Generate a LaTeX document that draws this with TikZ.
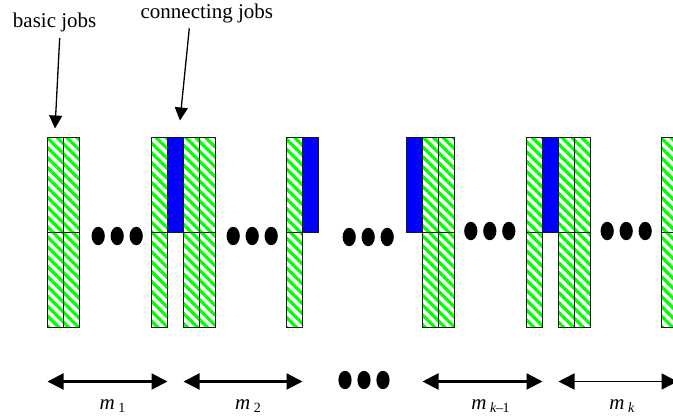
\documentclass[tikz,border=0pt]{standalone}
\usepackage{fontspec}
\setmainfont{Liberation Serif}
\usetikzlibrary{arrows.meta, positioning, patterns.meta}

% machine index with a lowered subscript
\newcommand{\msub}[1]{\textit{m}\,\raisebox{-3.5pt}{\fontsize{14}{14}\selectfont #1}}

\begin{document}
\begin{tikzpicture}[x=1pt, y=-1pt,
    font=\fontsize{21}{25}\selectfont,
    cell/.style={minimum width=16pt, minimum height=95pt, inner sep=0pt, outer sep=0pt},
    basic/.style={cell, pattern={Lines[angle=-45, distance=7pt, line width=3.2pt]}, pattern color=green},
    connect/.style={cell, fill=blue},
    outline/.style={draw=black!90, line width=1.4pt},
    pointer/.style={-{Triangle[width=13pt, length=13pt]}, line width=1.3pt},
    spanarrow/.style={{Triangle[width=16pt, length=16pt]}-{Triangle[width=16pt, length=16pt]}, line width=2.2pt}
  ]
  \useasboundingbox (0,0) rectangle (673,417);

  % upper row of cells
  \node[basic, anchor=north west] (g1a) at (47.5,137.5) {};
  \node[basic, right=0pt of g1a] (g1b) {};

  \node[basic, anchor=north west] (g2a) at (151.5,137.5) {};
  \node[connect, right=0pt of g2a] (g2b) {};
  \node[basic, right=0pt of g2b] (g2c) {};
  \node[basic, right=0pt of g2c] (g2d) {};

  \node[basic, anchor=north west] (g3a) at (286.5,137.5) {};
  \node[connect, right=0pt of g3a] (g3b) {};

  \node[connect, anchor=north west] (g4a) at (406.5,137.5) {};
  \node[basic, right=0pt of g4a] (g4b) {};
  \node[basic, right=0pt of g4b] (g4c) {};

  \node[basic, anchor=north west] (g5a) at (526.5,137.5) {};
  \node[connect, right=0pt of g5a] (g5b) {};
  \node[basic, right=0pt of g5b] (g5c) {};
  \node[basic, right=0pt of g5c] (g5d) {};

  \node[basic, anchor=north west] (g6a) at (661.5,137.5) {};

  % lower row, only under the basic jobs
  \foreach \c in {g1a,g1b,g2a,g2c,g2d,g3a,g4b,g4c,g5a,g5c,g5d,g6a}
    \node[basic, below=0pt of \c] (\c l) {};

  % cell borders on top of the hatching
  \foreach \c in {g1a,g1b,g2a,g2b,g2c,g2d,g3a,g3b,g4a,g4b,g4c,g5a,g5b,g5c,g5d,g6a,
                  g1al,g1bl,g2al,g2cl,g2dl,g3al,g4bl,g4cl,g5al,g5cl,g5dl,g6al}
    \draw[outline] (\c.north west) rectangle (\c.south east);

  % dots between the groups
  \foreach \x/\y in {98.2/236, 233.2/236, 349.2/237, 470.8/231, 607.2/231, 345/380}
    \foreach \i in {0,1,2}
      \fill (\x+19*\i, \y) ellipse [x radius=6.6, y radius=9.2];

  \node[anchor=base, inner sep=0pt] (basic) at (54.7,28) {basic jobs};
  \node[anchor=base, inner sep=0pt] (conn) at (206.8,19) {connecting jobs};
  \draw[pointer] ([xshift=5pt, yshift=-10pt]basic.base) -- ([xshift=-0.5pt, yshift=9pt]g1a.north);
  \draw[pointer] ([xshift=-17.5pt, yshift=-9.3pt]conn.base) -- ([xshift=4.5pt, yshift=17pt]g2b.north);

  % machine spans
  \coordinate (axis) at (0,381.5);
  \draw[spanarrow] (g1a.west |- axis) -- (g2a.east |- axis)
    node[midway, anchor=base, xshift=5pt, yshift=-27.5pt] (m1) {\msub{1}};
  \draw[spanarrow] (g2b.east |- axis) -- (g3a.east |- axis)
    node[midway, anchor=base, xshift=5pt, yshift=-27.5pt] (m2) {\msub{2}};
  \draw[spanarrow] (g4a.east |- axis) -- (g5a.east |- axis)
    node[midway, anchor=base, xshift=8pt, yshift=-27.5pt] (mk1) {\msub{\textit{k}\kern-0.5pt–\kern-0.5pt1}};
  \draw[spanarrow, line width=1.5pt] (g5b.east |- axis) -- (g6a.east |- axis)
    node[midway, anchor=base, xshift=4pt, yshift=-27.5pt] (mk) {\msub{\textit{k}}};
\end{tikzpicture}
\end{document}
